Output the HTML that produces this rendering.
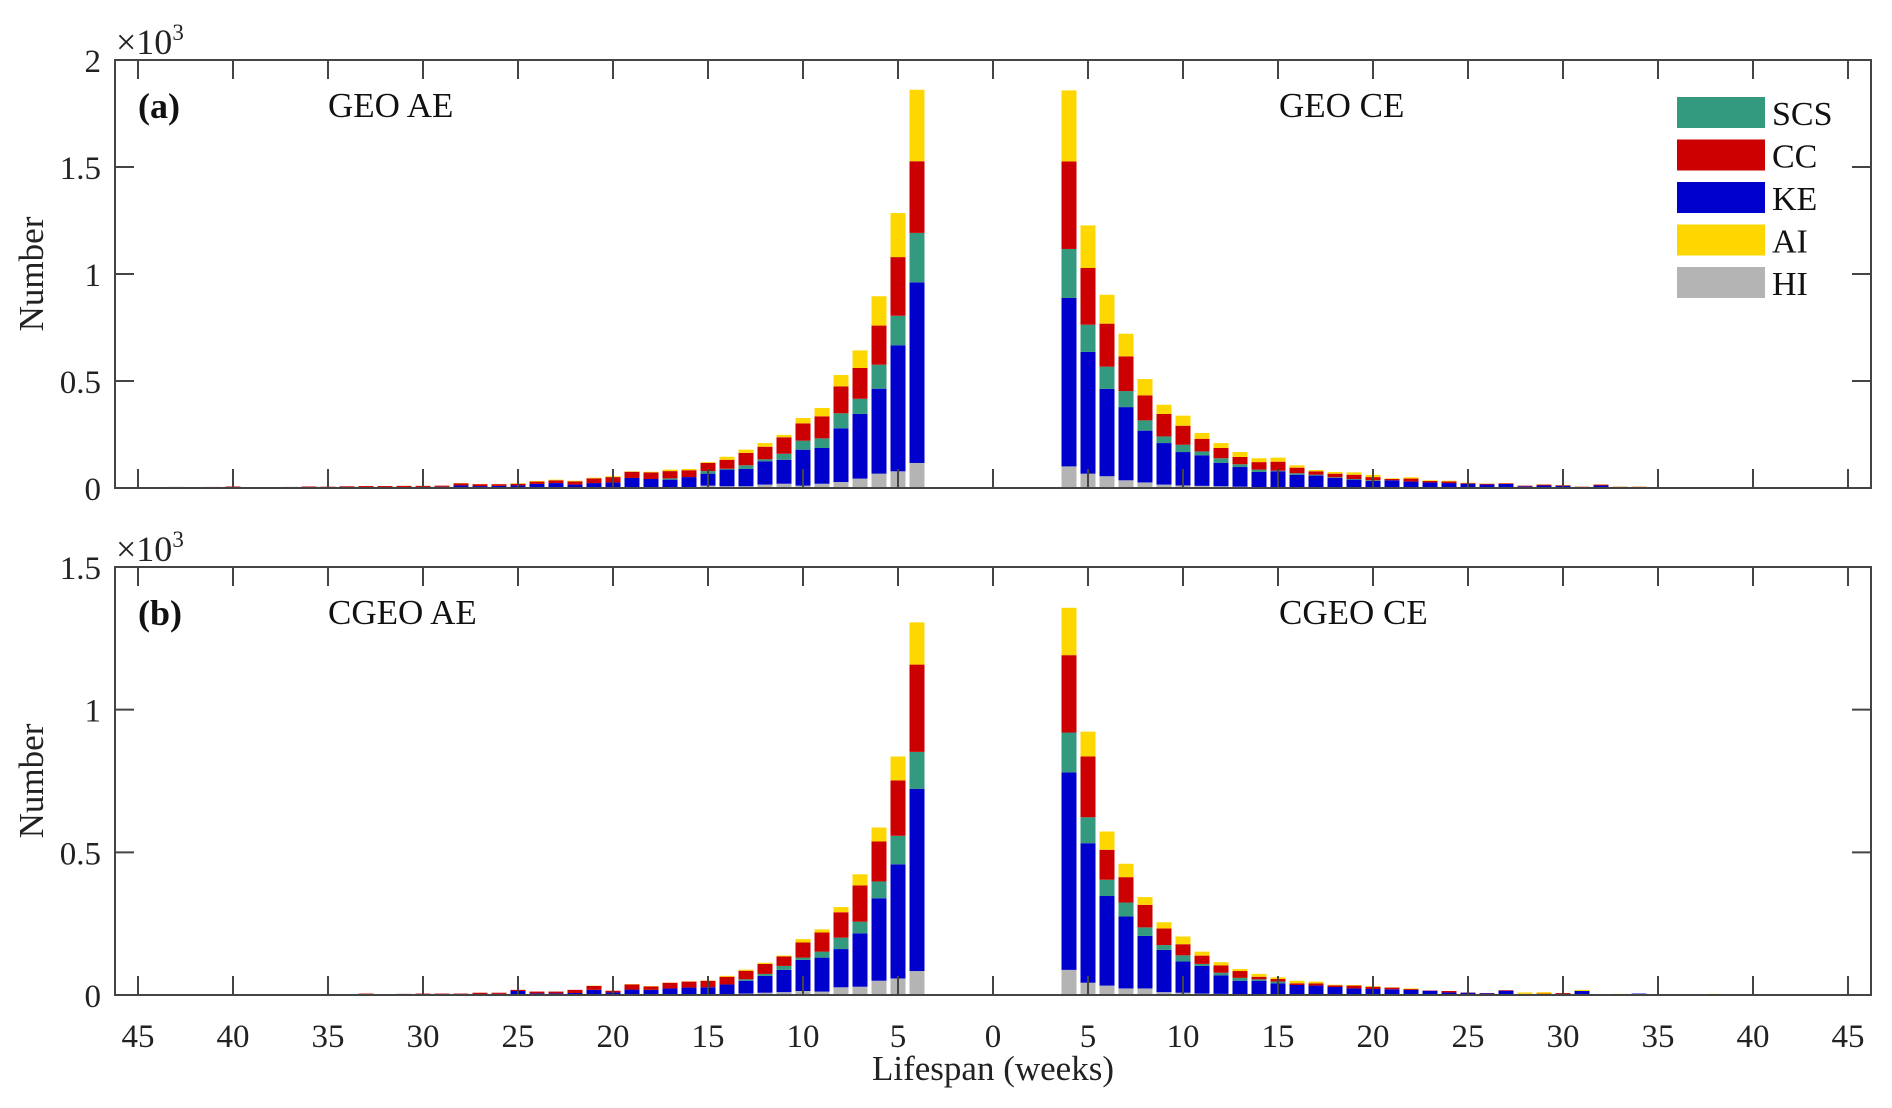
<!DOCTYPE html>
<html><head><meta charset="utf-8">
<style>
html,body{margin:0;padding:0;background:#fff;}
svg{display:block;font-family:"Liberation Serif",serif;}
</style></head>
<body>
<svg id="chart" width="1892" height="1108" viewBox="0 0 1892 1108" xmlns="http://www.w3.org/2000/svg"></svg>
<script>
// ---- data (weeks 4..44 on each side); segments stacked HI, KE, SCS, CC, AI ----
const weeks = [4,5,6,7,8,9,10,11,12,13,14,15,16,17,18,19,20,21,22,23,24,25,26,27,28,29,30,31,32,33,34,35,36,37,38,39,40,41,42,43,44];
const seriesNames = ["HI","KE","SCS","CC","AI"];
const seriesColors = {HI:"#b4b4b4",KE:"#0000cc",SCS:"#33997f",CC:"#cc0000",AI:"#ffd700"};
const legendOrder = ["SCS","CC","KE","AI","HI"];
const panelLabels = ["(a)","(b)"];
const panelTitlesAE = ["GEO AE","CGEO AE"];
const panelTitlesCE = ["GEO CE","CGEO CE"];
const yMaxes = [2,1.5];
const yTicksA = [0,0.5,1,1.5,2];
const yTicksB = [0,0.5,1,1.5];
const xTickLabels = [45,40,35,30,25,20,15,10,5,0,5,10,15,20,25,30,35,40,45];

// Panel (a) GEO AE
const aAE_HI  = [117,78,67,44,28,20,11,20,16,8,8,11,3,0,0,0,0,0,0,0,0,0,0,0,0,0,0,0,0,0,0,0,0,0,0,0,0,0,0,0,0];
const aAE_KE  = [844,589,397,302,251,167,168,112,109,81,78,56,48,39,42,47,26,23,16,23,19,12,10,9,12,6,5,4,4,4,4,2,3,3,0,2,3,2,1,2,0];
const aAE_SCS = [231,138,112,71,70,45,42,28,9,17,4,12,0,6,0,0,0,0,0,0,0,0,0,0,0,0,0,0,0,0,0,0,0,0,0,0,0,0,0,0,0];
const aAE_CC  = [335,274,183,144,126,103,81,77,59,58,42,38,32,34,31,29,25,22,15,13,11,8,8,9,10,5,5,6,5,5,4,4,4,2,0,2,4,3,2,3,0];
const aAE_AI  = [334,206,137,82,53,39,25,11,17,15,14,4,6,7,3,2,4,3,3,3,3,2,1,1,1,0,0,0,0,0,0,0,0,0,0,0,0,0,0,0,0];
// Panel (a) GEO CE
const aCE_HI  = [101,67,55,36,26,16,12,10,8,6,4,3,2,0,0,0,0,0,0,0,0,0,0,0,0,0,0,0,0,0,0,0,0,0,0,0,0,0,0,0,0];
const aCE_KE  = [787,569,408,342,242,194,156,143,109,92,71,75,60,58,47,39,33,36,30,26,23,20,16,19,8,12,10,4,12,4,4,2,2,2,2,2,2,2,0,0,0];
const aCE_SCS = [229,127,104,75,48,31,34,18,22,13,11,3,7,4,3,3,3,0,0,0,0,0,0,0,0,0,0,0,0,0,0,0,0,0,0,0,0,0,0,0,0];
const aCE_CC  = [409,265,201,162,117,105,89,59,48,34,35,42,26,16,17,20,15,6,14,7,8,3,4,3,3,4,3,2,4,2,2,1,1,1,1,1,1,1,0,0,0];
const aCE_AI  = [332,199,135,106,76,43,47,27,23,23,18,19,11,6,8,11,10,3,6,3,3,2,1,1,0,1,0,0,1,1,1,0,0,0,0,0,0,0,0,0,0];
// Panel (b) CGEO AE
const bAE_HI  = [84,58,50,29,27,12,14,10,8,5,3,2,0,0,0,0,0,0,0,0,0,0,0,0,0,0,0,0,0,0,0,0,0,0,0,0,0,0,0,0,0];
const bAE_KE  = [638,400,289,187,134,119,109,78,59,45,34,25,26,23,18,19,9,18,7,6,6,14,4,3,2,3,2,2,1,2,1,1,0,1,1,2,2,0,1,0,0];
const bAE_SCS = [130,100,59,41,40,21,8,14,7,5,0,0,0,0,0,0,0,0,0,0,0,0,0,0,0,0,0,0,0,0,0,0,0,0,0,0,0,0,0,0,0];
const bAE_CC  = [306,194,140,127,89,67,53,33,35,30,27,23,21,20,12,18,6,14,11,6,6,4,4,5,3,2,3,2,2,3,1,1,1,1,1,1,1,0,0,0,0];
const bAE_AI  = [148,84,49,39,18,11,12,3,4,4,3,1,1,1,1,1,0,1,0,0,0,0,0,0,0,0,0,0,0,0,0,0,0,0,0,0,0,0,0,0,0];
// Panel (b) CGEO CE
const bCE_HI  = [88,43,33,23,23,10,8,5,4,3,2,2,0,0,0,0,0,0,0,0,0,0,0,0,0,0,0,0,0,0,0,0,0,0,0,0,0,0,0,0,0];
const bCE_KE  = [692,489,314,252,184,148,110,97,65,47,48,39,35,33,28,23,21,20,18,15,9,8,6,15,3,2,4,14,0,0,5,1,0,0,0,2,0,0,0,2,0];
const bCE_SCS = [140,91,57,49,30,17,21,7,9,10,5,6,0,0,0,0,0,0,0,0,0,0,0,0,0,0,0,0,0,0,0,0,0,0,0,0,0,0,0,0,0];
const bCE_CC  = [271,213,105,89,79,58,39,29,26,24,9,9,6,8,6,10,8,6,3,1,5,1,1,2,1,3,3,0,0,0,0,0,3,0,0,0,0,0,0,0,0];
const bCE_AI  = [166,87,64,47,27,22,27,14,11,7,10,6,9,6,2,2,2,1,2,0,0,0,0,0,5,5,0,4,0,4,0,0,0,0,4,0,0,0,3,0,0];

const svg = document.getElementById('chart');
const NS = "http://www.w3.org/2000/svg";
function mk(tag, attrs, parent){
  const el = document.createElementNS(NS, tag);
  for (const k in attrs) el.setAttribute(k, attrs[k]);
  (parent||svg).appendChild(el);
  return el;
}
const X0 = 993, PXW = 19, LEFT = 115, RIGHT = 1871, BARW = 15;
function xScale(w, side){ return side === "AE" ? X0 - PXW*w : X0 + PXW*w; }
const panels = [
  {top:60, bottom:488, ymax:yMaxes[0], ticks:yTicksA, AE:{HI:aAE_HI,KE:aAE_KE,SCS:aAE_SCS,CC:aAE_CC,AI:aAE_AI}, CE:{HI:aCE_HI,KE:aCE_KE,SCS:aCE_SCS,CC:aCE_CC,AI:aCE_AI}},
  {top:567, bottom:995, ymax:yMaxes[1], ticks:yTicksB, AE:{HI:bAE_HI,KE:bAE_KE,SCS:bAE_SCS,CC:bAE_CC,AI:bAE_AI}, CE:{HI:bCE_HI,KE:bCE_KE,SCS:bCE_SCS,CC:bCE_CC,AI:bCE_AI}}
];

panels.forEach((p, pi) => {
  const g = mk('g', {});
  
  
  const yScale = v => p.bottom - (v/1000)/p.ymax*(p.bottom - p.top);
  ["AE","CE"].forEach(side => {
    weeks.forEach((w, i) => {
      let acc = 0;
      const cx = xScale(w, side);
      seriesNames.forEach(s => {
        const v = p[side][s][i];
        if (v > 0) {
          const y1 = yScale(acc), y2 = yScale(acc + v);
          const r = mk('rect', {x:(cx - BARW/2).toFixed(1), y:y2.toFixed(2), width:BARW, height:(y1 - y2).toFixed(2), fill:seriesColors[s]}, g);
          
          
        }
        acc += v;
      });
    });
  });
  const box = mk('rect', {x:LEFT, y:p.top, width:RIGHT-LEFT, height:p.bottom-p.top, fill:'none', stroke:'#444', 'stroke-width':2}, g);
  
  
  xTickLabels.forEach((lab, i) => {
    const x = X0 + PXW*5*(i - 9);
    mk('line', {x1:x, x2:x, y1:p.bottom, y2:p.bottom-19, stroke:'#444', 'stroke-width':2}, g);
    mk('line', {x1:x, x2:x, y1:p.top, y2:p.top+19, stroke:'#444', 'stroke-width':2}, g);
    if (pi === 1) {
      const t = mk('text', {x:x, y:1047, 'font-size':33, 'text-anchor':'middle', fill:'#222'}, g);
      t.textContent = lab;
      
      
    }
  });
  p.ticks.forEach(v => {
    const y = yScale(v*1000);
    mk('line', {x1:LEFT, x2:LEFT+19, y1:y, y2:y, stroke:'#444', 'stroke-width':2}, g);
    mk('line', {x1:RIGHT, x2:RIGHT-19, y1:y, y2:y, stroke:'#444', 'stroke-width':2}, g);
    const t = mk('text', {x:101, y:y+12, 'font-size':33, 'text-anchor':'end', fill:'#222'}, g);
    t.textContent = String(v);
    
    
  });
  const ex = mk('text', {x:116, y:p.top-6, 'font-size':36, fill:'#222'}, g);
  ex.innerHTML = '×10<tspan dy="-14" font-size="23">3</tspan>';
  
  
  const cy = (p.top + p.bottom)/2;
  const yl = mk('text', {x:0, y:0, 'font-size':35, 'text-anchor':'middle', fill:'#222', transform:'translate(43,' + cy + ') rotate(-90)'}, g);
  yl.textContent = 'Number';
  
  
  const pl = mk('text', {x:138, y:p.top+58, 'font-size':36, 'font-weight':'bold', fill:'#111'}, g);
  pl.textContent = panelLabels[pi];
  
  
  const t1 = mk('text', {x:328, y:p.top+57, 'font-size':35, fill:'#111'}, g);
  t1.textContent = panelTitlesAE[pi];
  
  
  const t2 = mk('text', {x:1279, y:p.top+57, 'font-size':35, fill:'#111'}, g);
  t2.textContent = panelTitlesCE[pi];
  
  
});

const lg = mk('g', {});


legendOrder.forEach((s, i) => {
  const y = 97 + i*42.5;
  const r = mk('rect', {x:1677, y:y, width:88, height:31, fill:seriesColors[s]}, lg);
  
  
  const t = mk('text', {x:1772, y:y+28, 'font-size':34, fill:'#111'}, lg);
  t.textContent = s;
  
  
});

const xt = mk('text', {x:993, y:1080, 'font-size':35, 'text-anchor':'middle', fill:'#222'});
xt.textContent = 'Lifespan (weeks)';


</script>
</body></html>
